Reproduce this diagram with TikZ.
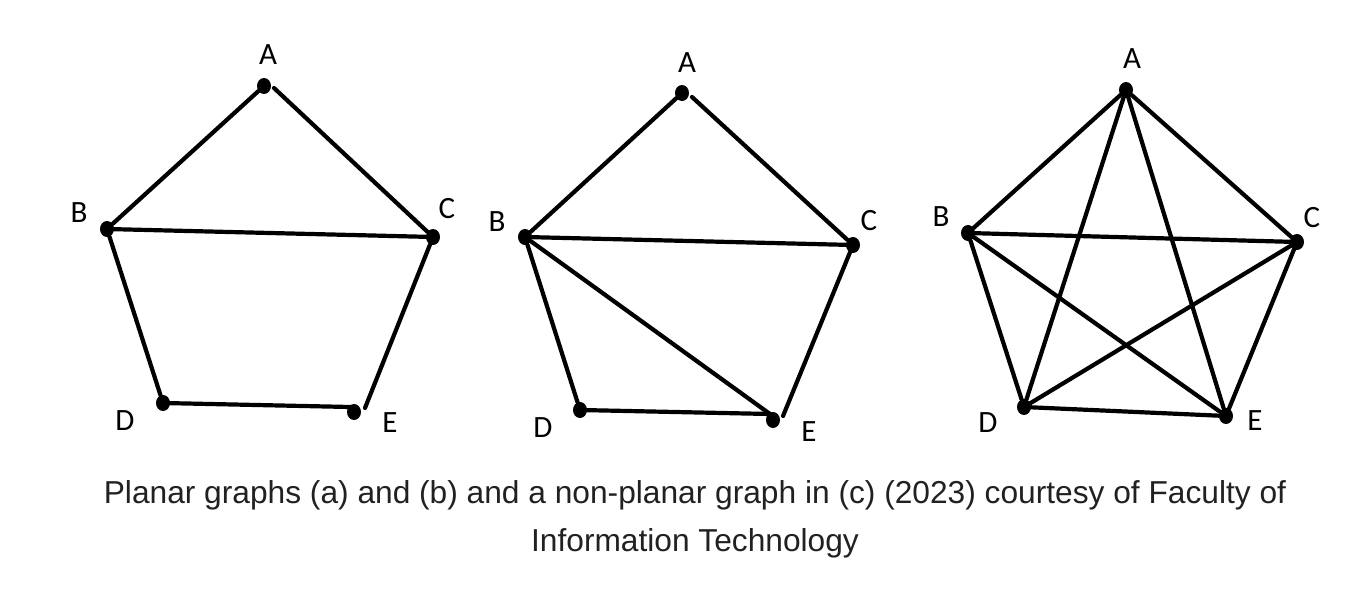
\documentclass[tikz,border=0pt]{standalone}
\usepackage{fontspec}
\usetikzlibrary{shapes.geometric}
\setmainfont{Carlito}
\newfontfamily\lblfont{Carlito}
\newfontfamily\capfont{Liberation Sans}
\begin{document}
\begin{tikzpicture}[x=1pt,y=-1pt,
  dot/.style={ellipse,fill=black,inner sep=0pt,minimum width=14pt,minimum height=16pt},
  lbl/.style={font=\lblfont\fontsize{31}{35}\selectfont,inner sep=0pt},
  edge/.style={line width=4.2pt,line cap=round},
  capt/.style={font=\capfont\fontsize{31.7}{36}\selectfont,text=black!87,inner sep=0pt,anchor=base}]
\useasboundingbox (0,0) rectangle (1366,596);
% ---------- graph (a)
\node[dot] (aA) at (264,86) {};
\node[dot] (aB) at (107,229) {};
\node[dot] (aC) at (433,237) {};
\node[dot] (aD) at (163,403) {};
\node[dot] (aE) at (354,412) {};
\coordinate (aAr) at (274,88);
\coordinate (aEr) at (365,408);
\coordinate (aEl) at (350,407);
\node[lbl] (laA) at (268,55) {A};
\node[lbl] (laB) at (79,213) {B};
\node[lbl] (laC) at (447,209) {C};
\node[lbl] (laD) at (125,421) {D};
\node[lbl] (laE) at (390,423) {E};
\draw[edge] (aA) -- (aB);
\draw[edge] (aAr) -- (aC);
\draw[edge] (aB) -- (aC);
\draw[edge] (aB) -- (aD);
\draw[edge] (aD) -- (aEl);
\draw[edge] (aC) -- (aEr);
% ---------- graph (b)
\node[dot] (bA) at (682,93) {};
\node[dot] (bB) at (525,237) {};
\node[dot] (bC) at (853,245) {};
\node[dot] (bD) at (580,410) {};
\node[dot] (bE) at (773,420) {};
\coordinate (bAr) at (692,97);
\coordinate (bEr) at (783,416);
\coordinate (bEl) at (770,414);
\node[lbl] (lbA) at (687,63) {A};
\node[lbl] (lbB) at (497,222) {B};
\node[lbl] (lbC) at (869,221) {C};
\node[lbl] (lbD) at (543,428) {D};
\node[lbl] (lbE) at (809,432) {E};
\draw[edge] (bA) -- (bB);
\draw[edge] (bAr) -- (bC);
\draw[edge] (bB) -- (bC);
\draw[edge] (bB) -- (bD);
\draw[edge] (bB) -- (bEl);
\draw[edge] (bD) -- (bEl);
\draw[edge] (bC) -- (bEr);
% ---------- graph (c)
\node[dot] (cA) at (1126,90) {};
\node[dot] (cB) at (968,233) {};
\node[dot] (cC) at (1297,242) {};
\node[dot] (cD) at (1024,407) {};
\node[dot] (cE) at (1226,416) {};
\node[lbl] (lcA) at (1132,59) {A};
\node[lbl] (lcB) at (941,217) {B};
\node[lbl] (lcC) at (1312,218) {C};
\node[lbl] (lcD) at (988,423) {D};
\node[lbl] (lcE) at (1255,421) {E};
\foreach \u/\v in {A/B,A/C,A/D,A/E,B/C,B/D,B/E,C/D,C/E,D/E}
  \draw[edge] (c\u) -- (c\v);
% ---------- caption
\node[capt] (cap1) at (695,503) {Planar graphs (a) and (b) and a non-planar graph in (c) (2023) courtesy of Faculty of};
\node[capt] (cap2) at (695,551) {Information Technology};
\end{tikzpicture}
\end{document}
